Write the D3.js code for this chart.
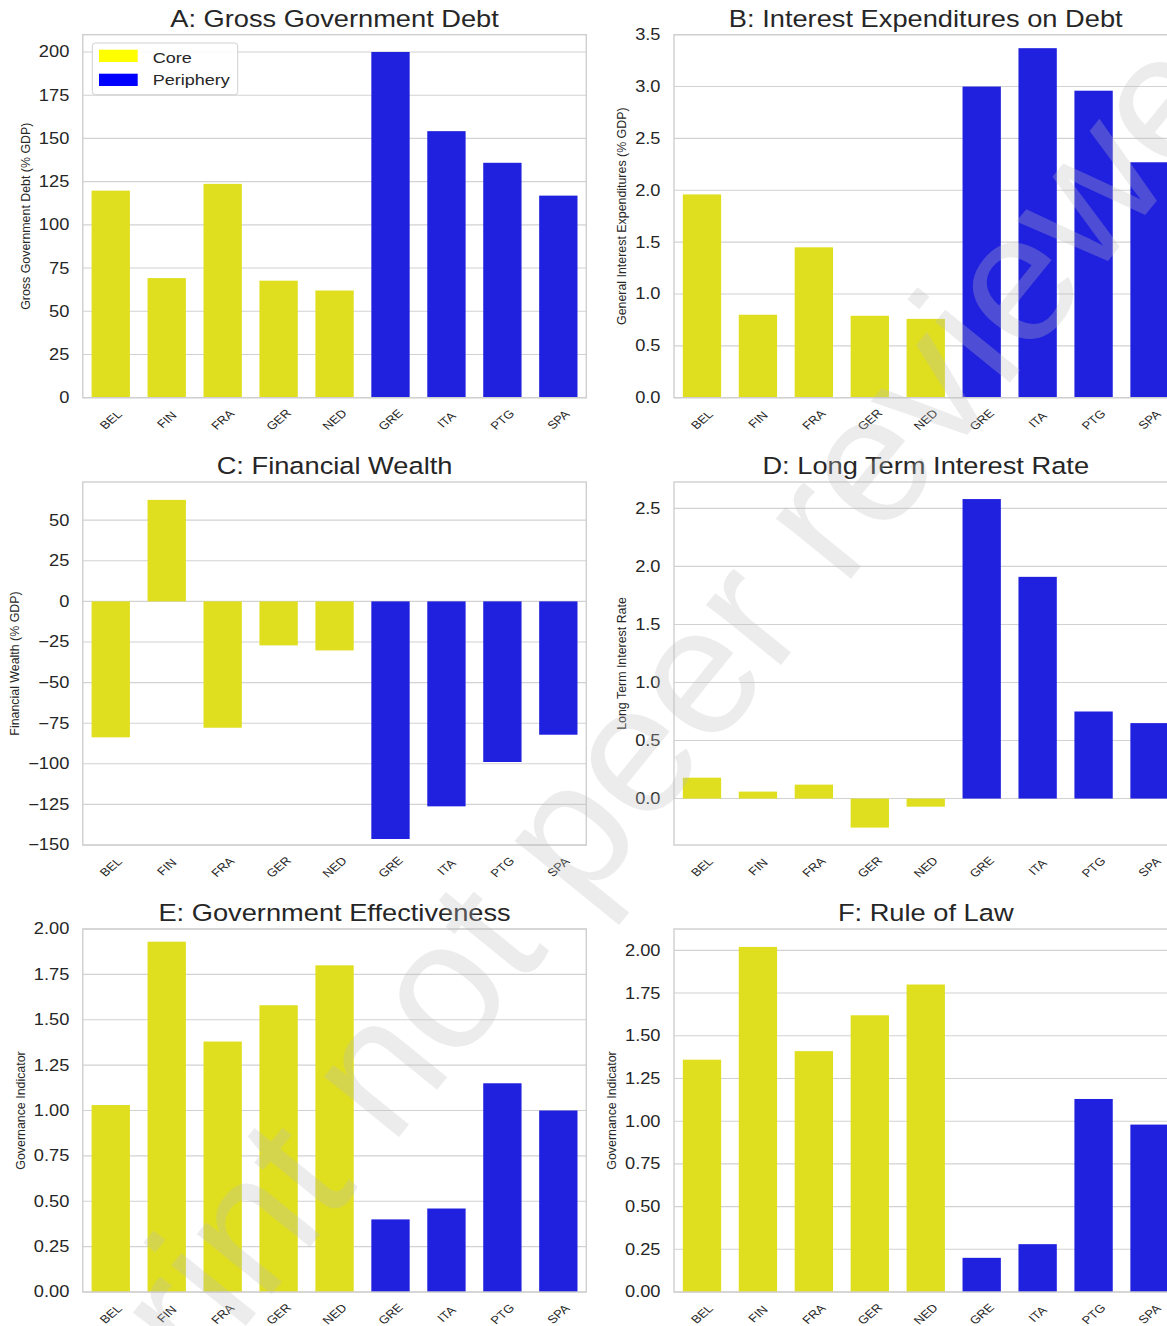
<!DOCTYPE html>
<html><head><meta charset="utf-8">
<script src="https://cdn.jsdelivr.net/npm/d3@7"></script>
<style>
body{margin:0;background:#fff;}
svg{display:block;}
text{font-family:"Liberation Sans",Arial,Helvetica,sans-serif;fill:#262626;}
</style>
</head><body>
<svg id="chart" width="1167" height="1326"></svg>
<script>
// ---------- data ----------
const countries = ["BEL","FIN","FRA","GER","NED","GRE","ITA","PTG","SPA"];
const groups = ["Core","Core","Core","Core","Core","Periphery","Periphery","Periphery","Periphery"];
const grossDebt        = [119.8, 69.2, 123.7, 67.7, 62.0, 200.0, 154.2, 135.9, 116.9];
const interestExp      = [1.96, 0.80, 1.45, 0.79, 0.76, 3.00, 3.37, 2.96, 2.27];
const financialWealth  = [-83.7, 62.5, -77.8, -27.1, -30.2, -146.3, -126.2, -98.9, -82.1];
const longTermRate     = [0.18, 0.06, 0.12, -0.25, -0.07, 2.58, 1.91, 0.75, 0.65];
const govEffectiveness = [1.03, 1.93, 1.38, 1.58, 1.80, 0.40, 0.46, 1.15, 1.00];
const ruleOfLaw        = [1.36, 2.02, 1.41, 1.62, 1.80, 0.20, 0.28, 1.13, 0.98];

const ticksA = [0,25,50,75,100,125,150,175,200];
const ticksB = [0,0.5,1.0,1.5,2.0,2.5,3.0,3.5];
const ticksC = [-150,-125,-100,-75,-50,-25,0,25,50];
const ticksD = [0,0.5,1.0,1.5,2.0,2.5];
const ticksE = [0,0.25,0.5,0.75,1.0,1.25,1.5,1.75,2.0];
const ticksF = [0,0.25,0.5,0.75,1.0,1.25,1.5,1.75,2.0];

const titles = ["A: Gross Government Debt","B: Interest Expenditures on Debt","C: Financial Wealth",
                "D: Long Term Interest Rate","E: Government Effectiveness","F: Rule of Law"];
const yLabels = ["Gross Government Debt (% GDP)","General Interest Expenditures (% GDP)","Financial Wealth (% GDP)",
                 "Long Term Interest Rate","Governance Indicator","Governance Indicator"];
const legendLabels = ["Core","Periphery"];
const watermark = "Preprint not peer reviewed";

// ---------- styling / layout ----------
const SX = 1.17; // horizontal stretch of the source image text
const barColor = {Core:"#dfdf20", Periphery:"#2020df"};
const legendColor = {Core:"#ffff00", Periphery:"#0000ff"};
const colX = [82.8, 674];
const rowY = [34.7, 482, 929];
const W = 503.5, H = 363;

const panels = [
  {vals:grossDebt, ticks:ticksA, domain:[0,210], fmt:d3.format("d"), legend:true},
  {vals:interestExp, ticks:ticksB, domain:[0,3.5], fmt:d3.format(".1f")},
  {vals:financialWealth, ticks:ticksC, domain:[-150,73.5], fmt:d3.format("d")},
  {vals:longTermRate, ticks:ticksD, domain:[-0.40,2.727], fmt:d3.format(".1f")},
  {vals:govEffectiveness, ticks:ticksE, domain:[0,2.0], fmt:d3.format(".2f")},
  {vals:ruleOfLaw, ticks:ticksF, domain:[0,2.125], fmt:d3.format(".2f")}
];

const svg = d3.select("#chart");
svg.append("rect").attr("width",1167).attr("height",1326).attr("fill","#fff");

function stext(g, x, y, str, size, extra){
  const t = g.append("text")
    .attr("transform", `translate(${x},${y}) scale(${SX},1)` + (extra||""))
    .style("font-size", size+"px")
    .text(str);
  return t;
}

panels.forEach((p,i)=>{
  const left = colX[i%2], top = rowY[Math.floor(i/2)];
  const g = svg.append("g").attr("transform",`translate(${left},${top})`);
  const x = d3.scaleBand().domain(countries).range([0,W]).padding(0);
  const y = d3.scaleLinear().domain(p.domain).range([H,0]);
  const bw = x.bandwidth()*0.685;

  // grid
  g.selectAll("line.grid").data(p.ticks).enter().append("line")
    .attr("x1",0).attr("x2",W)
    .attr("y1",d=>y(d)).attr("y2",d=>y(d))
    .attr("stroke","#d2d2d2").attr("stroke-width",1.1);

  // bars
  g.selectAll("rect.bar").data(p.vals).enter().append("rect")
    .attr("x",(d,j)=>x(countries[j])+(x.bandwidth()-bw)/2)
    .attr("width",bw)
    .attr("y",d=>y(Math.max(0,d)))
    .attr("height",d=>Math.abs(y(d)-y(0)))
    .attr("fill",(d,j)=>barColor[groups[j]]);

  // frame
  g.append("rect").attr("x",0).attr("y",0).attr("width",W).attr("height",H)
    .attr("fill","none").attr("stroke","#cfcfcf").attr("stroke-width",1.4);

  // y tick labels
  let maxW = 0;
  p.ticks.forEach(t=>{
    const s = p.fmt(t).replace("-","\u2212");
    const tx = stext(g, -13.5, y(t), s, 15.6).attr("text-anchor","end").attr("dy","0.35em");
    maxW = Math.max(maxW, tx.node().getComputedTextLength()*SX);
  });

  // x tick labels
  countries.forEach(c=>{
    stext(g, x(c)+x.bandwidth()/2, H+22, c, 11.2, " rotate(-45)")
      .attr("text-anchor","middle").attr("dy","0.35em");
  });

  // y label
  g.append("text")
    .attr("transform",`translate(${-13.5-maxW-13.5},${H/2}) scale(1.08,1) rotate(-90)`)
    .attr("text-anchor","middle").attr("dy","0.35em")
    .style("font-size","12.4px").text(yLabels[i]);

  // title
  stext(g, W/2, -8, titles[i], 23.3).attr("text-anchor","middle");

  // legend
  if(p.legend){
    const lg = svg.append("g");
    lg.append("rect").attr("x",92.3).attr("y",43).attr("width",145.4).attr("height",51.7)
      .attr("rx",3).attr("fill","#fff").attr("fill-opacity",0.85)
      .attr("stroke","#d0d0d0").attr("stroke-width",1);
    legendLabels.forEach((lbl,k)=>{
      lg.append("rect").attr("x",99).attr("y",49.7+k*24).attr("width",38.7).attr("height",12.3)
        .attr("fill",legendColor[lbl]);
      stext(lg, 152.7, 63+k*21.7, lbl, 15.4);
    });
  }
});

// watermark
svg.append("text")
  .attr("transform","translate(593,822) rotate(-51)")
  .attr("text-anchor","middle").attr("dy","0.26em")
  .style("font-size","182px").style("fill","rgb(189,189,189)").style("fill-opacity",0.29)
  .text(watermark);
</script>
</body></html>
